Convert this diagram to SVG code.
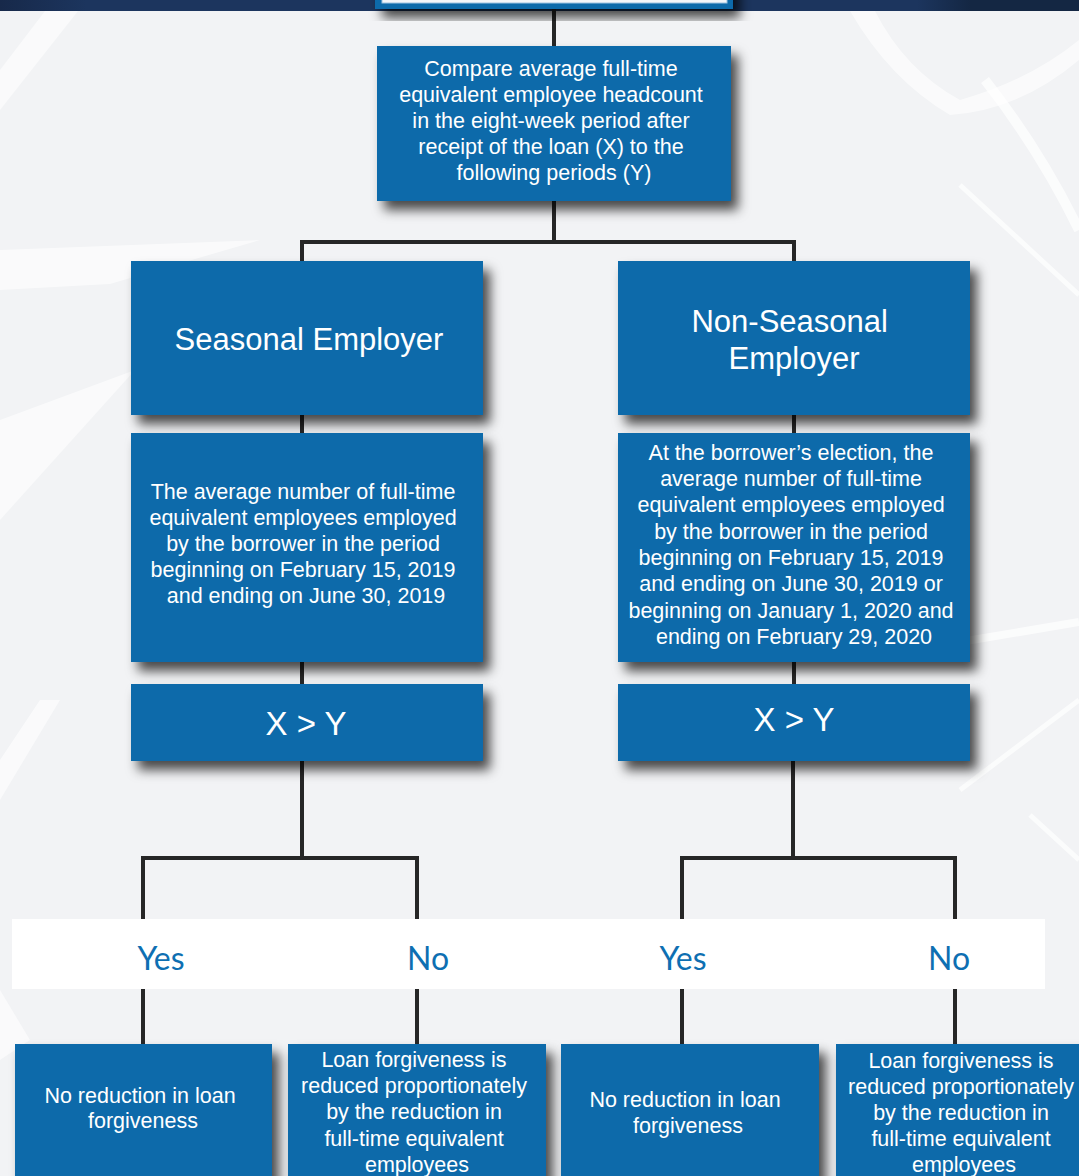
<svg xmlns="http://www.w3.org/2000/svg" width="1079" height="1176" viewBox="0 0 1079 1176">
  <defs>
    <linearGradient id="band" x1="0" y1="0" x2="1" y2="0">
      <stop offset="0" stop-color="#17294a"/>
      <stop offset="0.08" stop-color="#1c355e"/>
      <stop offset="0.85" stop-color="#1c355e"/>
      <stop offset="0.9" stop-color="#142743"/>
      <stop offset="1" stop-color="#142743"/>
    </linearGradient>
    <filter id="shadow" x="-10%" y="-10%" width="130%" height="140%">
      <feDropShadow dx="7" dy="9" stdDeviation="6" flood-color="#000" flood-opacity="0.7"/>
    </filter>
    <style>
      .box { fill: #076aaa; filter: url(#shadow); }
      .t { font-family: "Liberation Sans", Arial, sans-serif; fill: #ffffff; text-anchor: middle; }
      .body { font-size: 21.5px; }
      .title { font-size: 31px; }
      .cmp { font-size: 33px; }
      .yn { font-family: Lato, "Liberation Sans", sans-serif; font-size: 32px; fill: #0e6fb2; text-anchor: middle; }
      .conn { fill: none; stroke: #262626; stroke-width: 4; stroke-linejoin: miter; }
      .sw { fill: #ffffff; opacity: 0.6; }
      .sl { fill: none; stroke: #ffffff; opacity: 0.7; }
    </style>
  </defs>

  <!-- background -->
  <g id="background">
    <rect x="0" y="0" width="1079" height="1176" fill="#f2f3f5"/>
    <polygon class="sw" points="45,11 78,11 0,110 0,70"/>
    <polygon class="sw" points="0,290 110,284 260,240 0,250"/>
    <polygon class="sw" points="0,420 135,370 0,520"/>
    <path class="sw" d="M850,11 L875,11 Q905,70 960,100 Q1030,80 1079,40 L1079,60 Q1020,110 950,115 Q890,80 850,11 Z"/>
    <path class="sl" stroke-width="10" d="M985,80 Q1040,150 1079,230"/>
    <path class="sl" stroke-width="5" d="M960,185 L1079,295"/>
    <path class="sl" stroke-width="8" d="M960,642 L1079,622"/>
    <path class="sl" stroke-width="5" d="M960,790 L1079,700"/>
    <path class="sl" stroke-width="5" d="M1030,815 L1079,860"/>
    <polygon class="sw" points="0,990 30,1040 0,1060"/>
    <polygon class="sw" points="0,760 40,700 60,700 0,800"/>
    <rect x="0" y="0" width="1079" height="11" fill="url(#band)"/>
  </g>

  <!-- connectors -->
  <g id="connectors">
    <path class="conn" d="M554,9 V46"/>
    <path class="conn" d="M554,201 V242"/>
    <path class="conn" d="M302,261 V242 H794 V261"/>
    <path class="conn" d="M302,415 V433"/>
    <path class="conn" d="M794,415 V433"/>
    <path class="conn" d="M302,662 V684"/>
    <path class="conn" d="M794,662 V684"/>
    <path class="conn" d="M302,761 V858"/>
    <path class="conn" d="M143,1044 V858 H417 V1044"/>
    <path class="conn" d="M793,761 V858"/>
    <path class="conn" d="M682,1044 V858 H955 V1044"/>
  </g>

  <!-- yes/no label band -->
  <g id="labels">
    <rect x="12" y="919" width="1033" height="70" fill="#ffffff"/>
    <text class="yn" x="161" y="970">Yes</text>
    <text class="yn" x="428" y="970">No</text>
    <text class="yn" x="683" y="970">Yes</text>
    <text class="yn" x="949" y="970">No</text>
  </g>

  <!-- nodes -->
  <g id="node-top">
    <rect class="box" x="375" y="-30" width="358" height="39"/>
    <rect x="382" y="-30" width="345" height="33" fill="#f4f6f9" stroke="#9fc3e0" stroke-width="1"/>
  </g>

  <g id="node-compare">
    <rect class="box" x="377" y="46" width="354" height="155"/>
    <text class="t body">
      <tspan x="554" y="76">Compare average full-time</tspan>
      <tspan x="554" y="102">equivalent employee headcount</tspan>
      <tspan x="554" y="128">in the eight-week period after</tspan>
      <tspan x="554" y="154">receipt of the loan (X) to the</tspan>
      <tspan x="554" y="180">following periods (Y)</tspan>
    </text>
  </g>

  <g id="node-seasonal">
    <rect class="box" x="131" y="261" width="352" height="154"/>
    <text class="t title" x="309" y="350">Seasonal Employer</text>
  </g>

  <g id="node-nonseasonal">
    <rect class="box" x="618" y="261" width="352" height="154"/>
    <text class="t title">
      <tspan x="794" y="332">Non-Seasonal</tspan>
      <tspan x="794" y="369">Employer</tspan>
    </text>
  </g>

  <g id="node-seasonal-period">
    <rect class="box" x="131" y="433" width="352" height="229"/>
    <text class="t body">
      <tspan x="306" y="499">The average number of full-time</tspan>
      <tspan x="306" y="525">equivalent employees employed</tspan>
      <tspan x="306" y="551">by the borrower in the period</tspan>
      <tspan x="306" y="577">beginning on February 15, 2019</tspan>
      <tspan x="306" y="603">and ending on June 30, 2019</tspan>
    </text>
  </g>

  <g id="node-nonseasonal-period">
    <rect class="box" x="618" y="433" width="352" height="229"/>
    <text class="t body">
      <tspan x="794" y="460">At the borrower’s election, the</tspan>
      <tspan x="794" y="486">average number of full-time</tspan>
      <tspan x="794" y="512">equivalent employees employed</tspan>
      <tspan x="794" y="538.5">by the borrower in the period</tspan>
      <tspan x="794" y="565">beginning on February 15, 2019</tspan>
      <tspan x="794" y="591">and ending on June 30, 2019 or</tspan>
      <tspan x="794" y="617.5">beginning on January 1, 2020 and</tspan>
      <tspan x="794" y="643.5">ending on February 29, 2020</tspan>
    </text>
  </g>

  <g id="node-cmp-left">
    <rect class="box" x="131" y="684" width="352" height="77"/>
    <text class="t cmp" x="306" y="735">X &gt; Y</text>
  </g>

  <g id="node-cmp-right">
    <rect class="box" x="618" y="684" width="352" height="77"/>
    <text class="t cmp" x="794" y="731">X &gt; Y</text>
  </g>

  <g id="node-s-yes">
    <rect class="box" x="15" y="1044" width="257" height="160"/>
    <text class="t body">
      <tspan x="143" y="1103">No reduction in loan</tspan>
      <tspan x="143" y="1128">forgiveness</tspan>
    </text>
  </g>

  <g id="node-s-no">
    <rect class="box" x="288" y="1044" width="258" height="160"/>
    <text class="t body">
      <tspan x="417" y="1067">Loan forgiveness is</tspan>
      <tspan x="417" y="1093">reduced proportionately</tspan>
      <tspan x="417" y="1119">by the reduction in</tspan>
      <tspan x="417" y="1145.5">full-time equivalent</tspan>
      <tspan x="417" y="1171.5">employees</tspan>
    </text>
  </g>

  <g id="node-n-yes">
    <rect class="box" x="561" y="1044" width="258" height="160"/>
    <text class="t body">
      <tspan x="688" y="1107">No reduction in loan</tspan>
      <tspan x="688" y="1133">forgiveness</tspan>
    </text>
  </g>

  <g id="node-n-no">
    <rect class="box" x="836" y="1044" width="260" height="160"/>
    <text class="t body">
      <tspan x="964" y="1068">Loan forgiveness is</tspan>
      <tspan x="964" y="1094">reduced proportionately</tspan>
      <tspan x="964" y="1120">by the reduction in</tspan>
      <tspan x="964" y="1146">full-time equivalent</tspan>
      <tspan x="964" y="1172">employees</tspan>
    </text>
  </g>
</svg>
